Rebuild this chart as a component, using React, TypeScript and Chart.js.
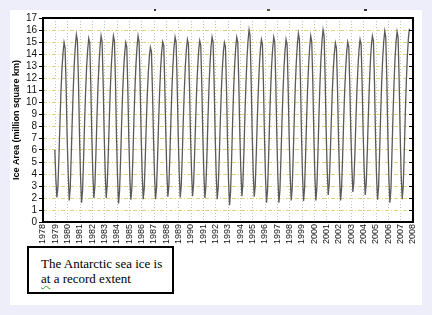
import React, { useEffect, useRef } from "react";
import { Chart, registerables } from "chart.js";

Chart.register(...registerables);

// Monthly Antarctic sea ice area (million km²)
const startPoint = { year: 1978, month: 11, value: 6.0 }; // Dec 1978
const years = [
  1979, 1980, 1981, 1982, 1983, 1984, 1985, 1986, 1987, 1988,
  1989, 1990, 1991, 1992, 1993, 1994, 1995, 1996, 1997, 1998,
  1999, 2000, 2001, 2002, 2003, 2004, 2005, 2006, 2007,
];
const monthly: number[][] = [
  [3.6, 2.05, 2.9, 5.4, 8.3, 10.9, 12.8, 14.1, 14.95, 14.5, 11.3, 7.0],
  [4.1, 1.8, 2.8, 5.6, 8.6, 11.2, 13.3, 14.7, 15.6, 15.1, 11.8, 7.3],
  [3.9, 1.6, 2.6, 5.3, 8.4, 11.0, 13.0, 14.4, 15.3, 14.9, 11.5, 7.1],
  [4.0, 2.0, 3.0, 5.7, 8.7, 11.3, 13.2, 14.6, 15.5, 15.0, 11.7, 7.4],
  [4.2, 2.0, 3.1, 5.6, 8.5, 11.1, 13.1, 14.5, 15.5, 15.1, 11.8, 7.2],
  [3.8, 1.55, 2.6, 5.2, 8.2, 10.8, 12.8, 14.1, 14.95, 14.6, 11.2, 6.9],
  [3.7, 1.85, 2.9, 5.5, 8.6, 11.2, 13.2, 14.6, 15.5, 15.0, 11.6, 7.2],
  [4.0, 1.9, 2.8, 5.3, 8.1, 10.7, 12.5, 13.8, 14.55, 14.2, 11.0, 7.0],
  [3.9, 1.9, 2.9, 5.4, 8.4, 10.9, 12.9, 14.2, 15.0, 14.7, 11.4, 7.3],
  [4.1, 2.1, 3.1, 5.7, 8.6, 11.2, 13.2, 14.6, 15.4, 15.0, 11.7, 7.4],
  [4.2, 2.05, 3.0, 5.5, 8.5, 11.0, 13.0, 14.4, 15.2, 14.8, 11.5, 7.3],
  [4.3, 2.15, 3.1, 5.6, 8.4, 11.0, 12.9, 14.3, 15.1, 14.7, 11.4, 7.2],
  [4.1, 2.0, 3.0, 5.5, 8.6, 11.2, 13.2, 14.6, 15.4, 15.0, 11.6, 7.3],
  [4.0, 1.9, 2.9, 5.4, 8.3, 10.9, 12.8, 14.2, 14.95, 14.6, 11.3, 6.9],
  [3.5, 1.4, 2.5, 5.2, 8.4, 11.1, 13.1, 14.5, 15.4, 15.0, 11.6, 7.4],
  [4.3, 2.15, 3.2, 5.9, 9.0, 11.6, 13.7, 15.1, 16.0, 15.5, 12.0, 7.5],
  [4.2, 2.1, 3.0, 5.6, 8.5, 11.0, 13.0, 14.4, 15.2, 14.8, 11.5, 7.0],
  [3.7, 1.6, 2.7, 5.4, 8.5, 11.1, 13.1, 14.5, 15.4, 15.0, 11.6, 7.2],
  [3.8, 1.6, 2.6, 5.3, 8.3, 10.9, 12.9, 14.3, 15.2, 14.8, 11.3, 7.1],
  [3.9, 1.8, 2.9, 5.6, 8.7, 11.4, 13.4, 14.8, 15.7, 15.2, 11.8, 7.3],
  [3.9, 1.75, 2.8, 5.5, 8.6, 11.2, 13.2, 14.6, 15.5, 15.0, 11.7, 7.4],
  [3.9, 1.8, 2.9, 5.7, 8.9, 11.6, 13.7, 15.1, 16.0, 15.5, 12.1, 7.6],
  [4.4, 2.25, 3.2, 5.6, 8.4, 10.9, 12.8, 14.1, 14.9, 14.5, 11.3, 7.1],
  [3.9, 1.8, 2.8, 5.4, 8.3, 10.9, 12.8, 14.2, 15.0, 14.6, 11.4, 7.5],
  [4.6, 2.5, 3.4, 5.8, 8.6, 11.1, 13.0, 14.4, 15.2, 14.8, 11.6, 7.4],
  [4.3, 2.25, 3.2, 5.8, 8.7, 11.3, 13.3, 14.7, 15.5, 15.1, 11.8, 7.2],
  [3.9, 1.85, 2.9, 5.7, 8.9, 11.6, 13.6, 15.0, 15.9, 15.4, 12.0, 7.3],
  [3.7, 1.6, 2.7, 5.6, 8.8, 11.5, 13.6, 15.0, 15.85, 15.4, 11.9, 7.4],
  [3.9, 1.9, 3.0, 5.8, 9.0, 11.7, 13.8, 15.3, 16.1],
];
const yearTicks = [
  1978, 1979, 1980, 1981, 1982, 1983, 1984, 1985, 1986, 1987, 1988,
  1989, 1990, 1991, 1992, 1993, 1994, 1995, 1996, 1997, 1998,
  1999, 2000, 2001, 2002, 2003, 2004, 2005, 2006, 2007, 2008,
];
const yTicks = [0, 1, 2, 3, 4, 5, 6, 7, 8, 9, 10, 11, 12, 13, 14, 15, 16, 17];
const yTitle = "Ice Area (million square km)";
const noteLines = ["The Antarctic sea ice is", "a record extent"];

const framePlugin = {
  id: "frame",
  afterDraw(chart: any) {
    const { ctx, chartArea, scales } = chart;
    const { left, top, right, bottom } = chartArea;
    ctx.save();
    ctx.strokeStyle = "#000";
    ctx.lineWidth = 2;
    ctx.strokeRect(left, top, right - left, bottom - top);
    ctx.lineWidth = 1;
    ctx.beginPath();
    for (const t of scales.y.ticks) {
      const py = Math.round(scales.y.getPixelForValue(t.value)) + 0.5;
      ctx.moveTo(right - 4, py);
      ctx.lineTo(right, py);
    }
    ctx.stroke();
    ctx.restore();
  },
};

export default function App() {
  const ref = useRef<HTMLCanvasElement>(null);

  useEffect(() => {
    document.body.style.margin = "0";
    document.body.style.background = "#eeeefa";
    const points: { x: number; y: number }[] = [
      { x: startPoint.year + (startPoint.month + 0.5) / 12, y: startPoint.value },
    ];
    years.forEach((yr, i) => {
      monthly[i].forEach((v, m) => points.push({ x: yr + (m + 0.5) / 12, y: v }));
    });
    const chart = new Chart(ref.current!, {
      type: "line",
      data: {
        datasets: [
          {
            data: points,
            borderColor: "#5a5a5a",
            borderWidth: 1.3,
            pointRadius: 0,
            tension: 0,
            fill: false,
          },
        ],
      },
      options: {
        animation: false,
        responsive: false,
        events: [],
        layout: { padding: { left: 0, top: 18, right: 19, bottom: 0 } },
        plugins: { legend: { display: false }, tooltip: { enabled: false } },
        scales: {
          x: {
            type: "linear",
            min: 1978,
            max: 2008,
            afterBuildTicks: (s: any) => {
              s.ticks = yearTicks.map((v) => ({ value: v }));
            },
            afterFit: (s: any) => {
              s.height = 93;
            },
            ticks: {
              autoSkip: false,
              minRotation: 90,
              maxRotation: 90,
              padding: 2,
              color: "#111",
              font: { family: "Liberation Sans, Arial, sans-serif", size: 9 },
              callback: (v: any) => String(v),
            },
            grid: {
              color: "#b4c8b4",
              lineWidth: 1,
              drawTicks: false,
            },
            border: { display: false, dash: [1, 2] },
          },
          y: {
            min: 0,
            max: 17,
            afterBuildTicks: (s: any) => {
              s.ticks = yTicks.map((v) => ({ value: v }));
            },
            afterFit: (s: any) => {
              s.width = 43;
            },
            ticks: {
              autoSkip: false,
              padding: 2,
              color: "#111",
              font: { family: "Liberation Sans, Arial, sans-serif", size: 10 },
              callback: (v: any) => String(v),
            },
            grid: {
              color: "#e2d27e",
              lineWidth: 1,
              tickLength: 4,
              tickColor: "#000",
            },
            border: { display: false, dash: [4, 2, 1, 2] },
            title: {
              display: true,
              text: yTitle,
              color: "#000",
              padding: { top: 11, bottom: 0 },
              font: {
                family: "Liberation Sans, Arial, sans-serif",
                size: 9,
                weight: "bold",
              },
            },
          },
        },
      },
      plugins: [framePlugin],
    } as any);
    return () => chart.destroy();
  }, []);

  return (
    <div
      style={{
        position: "relative",
        width: 432,
        height: 315,
        background: "#eeeefa",
        overflow: "hidden",
      }}
    >
      <div
        style={{
          position: "absolute",
          left: 10,
          top: 10,
          width: 412,
          height: 295,
          background: "#ffffff",
        }}
      />
      <div style={{ position: "absolute", left: 154, top: 9, width: 2, height: 2, background: "#333" }} />
      <div style={{ position: "absolute", left: 267, top: 9, width: 3, height: 2, background: "#553" }} />
      <div style={{ position: "absolute", left: 364, top: 9, width: 3, height: 2, background: "#333" }} />
      <canvas
        ref={ref}
        width={432}
        height={315}
        style={{ position: "absolute", left: 0, top: 0, width: 432, height: 315 }}
      />
      <div
        style={{
          position: "absolute",
          left: 27,
          top: 246,
          width: 147,
          height: 48,
          border: "2px solid #000",
          background: "#fff",
          fontFamily: "'Liberation Serif', 'Times New Roman', serif",
          fontSize: 13,
          lineHeight: "15px",
          color: "#000",
          paddingTop: 8,
          paddingLeft: 12,
          boxSizing: "border-box",
          whiteSpace: "nowrap",
        }}
      >
        <div>{noteLines[0]}</div>
        <div>
          <span
            style={{
              textDecoration: "underline wavy #2a9a2a",
              textDecorationThickness: 1,
              textUnderlineOffset: 2,
            }}
          >
            at
          </span>{" "}
          {noteLines[1]}
        </div>
      </div>
    </div>
  );
}
